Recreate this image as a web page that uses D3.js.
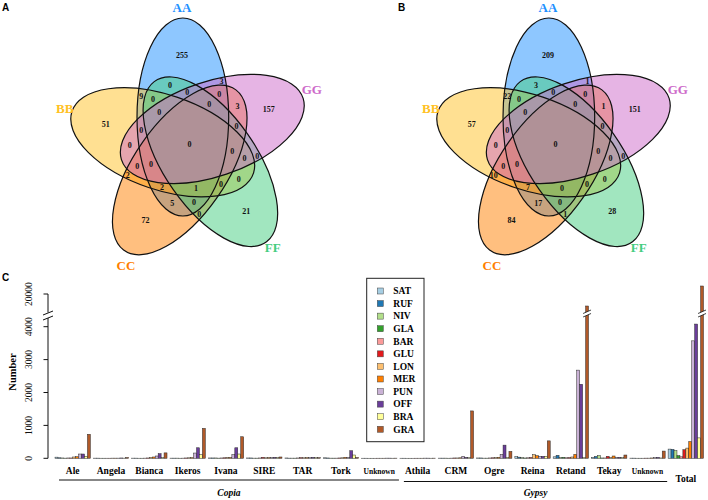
<!DOCTYPE html>
<html>
<head>
<meta charset="utf-8">
<title>Venn and TE family counts</title>
<script src="https://d3js.org/d3.v7.min.js"></script>
<style>
  body { margin: 0; background: #fff; }
  svg text { font-family: "Liberation Serif", "Times New Roman", serif; }
  svg text.panel { font-family: "Liberation Sans", Arial, sans-serif; font-weight: bold; font-size: 10px; }
</style>
</head>
<body>
<svg id="chart" width="708" height="500"></svg>
<script>

// ---- Venn data ----
var vennSets = ["AA", "BB", "CC", "FF", "GG"];
var vennColors = ["#1E90FF", "#FFC125", "#FF7F00", "#43CD80", "#CD69C9"];
var vennRegions = ["AA", "BB", "CC", "FF", "GG",
    "AA&BB", "AA&GG", "FF&GG", "CC&FF", "BB&CC",
    "AA&FF", "CC&GG", "BB&FF", "AA&CC", "BB&GG",
    "AA&BB&FF", "AA&CC&GG", "BB&FF&GG", "AA&CC&FF", "BB&CC&GG",
    "AA&FF&GG", "CC&FF&GG", "BB&CC&FF", "AA&BB&CC", "AA&BB&GG",
    "AA&BB&FF&GG", "AA&CC&FF&GG", "BB&CC&FF&GG", "AA&BB&CC&FF", "AA&BB&CC&GG",
    "AA&BB&CC&FF&GG"];
var countsA = [255, 51, 72, 21, 157,  9, 3, 0, 0, 2,  0, 3, 0, 5, 0,  0, 0, 0, 0, 0,  0, 0, 0, 2, 0,  0, 0, 0, 1, 0,  0];
var countsB = [209, 57, 84, 28, 151,  22, 1, 0, 1, 10,  3, 1, 0, 17, 0,  0, 0, 0, 0, 0,  0, 0, 0, 7, 0,  0, 0, 0, 0, 0,  0];

// ---- bar chart data ----
var families = ["Ale", "Angela", "Bianca", "Ikeros", "Ivana", "SIRE", "TAR", "Tork", "Unknown",
    "Athila", "CRM", "Ogre", "Reina", "Retand", "Tekay", "Unknown", "Total"];
var species = ["SAT", "RUF", "NIV", "GLA", "BAR", "GLU", "LON", "MER", "PUN", "OFF", "BRA", "GRA"];
var sat = [35, 5, 5, 5, 10, 10, 10, 15, 3, 3, 5, 10, 50, 45, 30, 5, 280];
var ruf = [15, 5, 5, 5, 10, 10, 5, 10, 3, 3, 5, 10, 35, 90, 55, 5, 270];
var niv = [10, 3, 3, 5, 10, 5, 5, 5, 2, 2, 5, 5, 20, 20, 80, 3, 230];
var gla = [5, 3, 3, 3, 5, 5, 5, 5, 2, 2, 3, 5, 10, 30, 10, 3, 80];
var bar = [10, 3, 5, 5, 10, 10, 10, 5, 2, 2, 5, 10, 15, 15, 10, 3, 45];
var glu = [10, 3, 10, 10, 15, 30, 20, 10, 3, 3, 10, 15, 25, 20, 60, 5, 260];
var lon = [40, 5, 30, 15, 25, 15, 15, 15, 3, 3, 10, 20, 110, 40, 25, 5, 310];
var mer = [50, 5, 40, 20, 25, 20, 20, 30, 3, 3, 15, 30, 80, 120, 70, 10, 510];
var pun = [130, 5, 70, 160, 110, 20, 20, 30, 5, 5, 60, 120, 60, 2680, 30, 20, 3570];
var off = [130, 10, 140, 320, 320, 30, 30, 230, 5, 5, 30, 400, 60, 2250, 30, 30, 4080];
var bra = [60, 5, 20, 110, 130, 20, 20, 100, 3, 3, 20, 30, 60, 20, 20, 10, 620];
var gra = [730, 25, 165, 910, 655, 40, 20, 25, 5, 5, 1440, 210, 530, 17000, 100, 220, 22000];
var series = [sat, ruf, niv, gla, bar, glu, lon, mer, pun, off, bra, gra];
var lowTicks = [0, 1000, 2000, 3000, 4000];
var highTicks = [20000];

var svg = d3.select("#chart");

// ================= Venn panels =================
var clockOrder = ["AA", "GG", "FF", "CC", "BB"];
var semiMajor = 99, semiMinor = 47.5;
var squeezeX = 0.965;   // venn viewport is slightly narrower than tall
// category label placement (angle in degrees, distance from the Venn centre)
var catAngle = {AA: -93.2, GG: -24.2, FF: 51.3, CC: 117.7, BB: 196.1};
var catDist = {AA: 137, GG: 134, FF: 133, CC: 137, BB: 130};

function rot(p, deg) {
    var t = deg * Math.PI / 180;
    return [p[0] * Math.cos(t) - p[1] * Math.sin(t), p[0] * Math.sin(t) + p[1] * Math.cos(t)];
}

var ellipses = vennSets.map(function(s, i) {
    var k = clockOrder.indexOf(s);
    var c = rot([-7, -27], k * 72);
    var t = catAngle[s] * Math.PI / 180;
    return {name: s, color: vennColors[i], cx: c[0], cy: c[1], angle: -90 + k * 72,
        lx: catDist[s] * Math.cos(t), ly: catDist[s] * Math.sin(t)};
});

function maskAt(ells, x, y) {
    var A = semiMajor, B = semiMinor, mask = 0, depth = Infinity;
    ells.forEach(function(e, i) {
        var th = e.angle * Math.PI / 180, dx = x - e.cx, dy = y - e.cy;
        var u = dx * Math.cos(th) + dy * Math.sin(th);
        var w = -dx * Math.sin(th) + dy * Math.cos(th);
        var q = u * u / (A * A) + w * w / (B * B);
        if (q < 1) mask |= 1 << i;
        var g = 2 * Math.sqrt(u * u / Math.pow(A, 4) + w * w / Math.pow(B, 4));
        depth = Math.min(depth, Math.abs(q - 1) / Math.max(g, 1e-6));
    });
    return {mask: mask, depth: depth};
}

// label spot for each region: centroid, or deepest point if centroid falls outside
function regionSpots(ells) {
    var acc = {};
    for (var x = -135; x <= 135; x += 1) {
        for (var y = -140; y <= 135; y += 1) {
            var r = maskAt(ells, x, y);
            if (!r.mask) continue;
            var a = acc[r.mask] || (acc[r.mask] = {sx: 0, sy: 0, n: 0, best: null});
            a.sx += x; a.sy += y; a.n += 1;
            if (!a.best || r.depth > a.best.d) a.best = {x: x, y: y, d: r.depth};
        }
    }
    var out = {};
    Object.keys(acc).forEach(function(m) {
        var a = acc[m], cx = a.sx / a.n, cy = a.sy / a.n;
        var chk = maskAt(ells, cx, cy);
        out[m] = (chk.mask == m && chk.depth > 3) ? {x: cx, y: cy} : a.best;
    });
    return out;
}
var spots = regionSpots(ellipses);

function regionMask(r) {
    return r.split("&").reduce(function(m, s) { return m | (1 << vennSets.indexOf(s)); }, 0);
}

function drawVenn(cx, cy, counts) {
    var g = svg.append("g").attr("transform", "translate(" + cx + "," + cy + ")");
    var shapes = g.append("g").attr("transform", "scale(" + squeezeX + ",1)");
    shapes.selectAll("ellipse.fill").data(ellipses).enter().append("ellipse")
        .attr("class", "fill")
        .attr("cx", d => d.cx).attr("cy", d => d.cy)
        .attr("rx", semiMajor).attr("ry", semiMinor)
        .attr("transform", d => "rotate(" + d.angle + "," + d.cx + "," + d.cy + ")")
        .attr("fill", d => d.color).attr("fill-opacity", 0.5)
        .attr("stroke", "none");
    shapes.selectAll("ellipse.line").data(ellipses).enter().append("ellipse")
        .attr("class", "line")
        .attr("cx", d => d.cx).attr("cy", d => d.cy)
        .attr("rx", semiMajor).attr("ry", semiMinor)
        .attr("transform", d => "rotate(" + d.angle + "," + d.cx + "," + d.cy + ")")
        .attr("fill", "none").attr("stroke", "#111").attr("stroke-width", 1.2)
        .attr("vector-effect", "non-scaling-stroke");
    g.selectAll("text.num").data(vennRegions).enter().append("text")
        .attr("class", "num")
        .attr("x", d => spots[regionMask(d)].x * squeezeX)
        .attr("y", d => spots[regionMask(d)].y)
        .attr("text-anchor", "middle").attr("dy", "0.35em")
        .attr("font-size", "8px").attr("font-weight", "bold").attr("fill", "#111")
        .text((d, i) => counts[i]);
    g.selectAll("text.cat").data(ellipses).enter().append("text")
        .attr("class", "cat")
        .attr("x", d => d.lx).attr("y", d => d.ly)
        .attr("text-anchor", "middle").attr("dy", "0.35em")
        .attr("font-size", "13px").attr("font-weight", "bold")
        .attr("fill", d => d.color)
        .text(d => d.name);
}

drawVenn(189.6, 144, countsA);
drawVenn(555.6, 144, countsB);

svg.append("text").attr("class", "panel").attr("x", 2).attr("y", 11).text("A");
svg.append("text").attr("class", "panel").attr("x", 398).attr("y", 11).text("B");
svg.append("text").attr("class", "panel").attr("x", 2).attr("y", 281).text("C");

// ================= bar chart =================
var colors = d3.schemePaired;
var x0 = d3.scaleBand().domain(d3.range(families.length)).range([55, 703.5])
    .paddingInner(1 / 13).paddingOuter(0);
var x1 = d3.scaleBand().domain(d3.range(species.length)).range([0, x0.bandwidth()]);
var yLow = d3.scaleLinear().domain([0, 4000]).range([458.3, 326.7]);
var yHigh = d3.scaleLinear().domain([15000, 22000]).range([314, 286]);
var breakAt = 4300;
function yv(v) { return v > breakAt ? yHigh(v) : yLow(v); }

var rows = [];
series.forEach(function(vals, s) {
    vals.forEach(function(v, f) { rows.push({f: f, s: s, v: v}); });
});

var bars = svg.append("g");
bars.selectAll("rect").data(rows).enter().append("rect")
    .attr("x", d => x0(d.f) + x1(d.s))
    .attr("width", x1.bandwidth())
    .attr("y", d => yv(d.v))
    .attr("height", d => yLow(0) - yv(d.v))
    .attr("fill", d => colors[d.s])
    .attr("stroke", "#2a2a2a").attr("stroke-width", 0.5);

// break marks on bars that cross the gap
var tall = rows.filter(d => d.v > breakAt);
var brk = svg.append("g");
tall.forEach(function(d) {
    var xa = x0(d.f) + x1(d.s) - 2.5, xb = xa + x1.bandwidth() + 5;
    brk.append("polygon")
        .attr("points", [[xa, 317], [xb, 313.5], [xb, 310], [xa, 313.5]].join(" "))
        .attr("fill", "#fff");
    brk.append("line").attr("x1", xa).attr("y1", 317).attr("x2", xb).attr("y2", 313.5)
        .attr("stroke", "#111").attr("stroke-width", 0.8);
    brk.append("line").attr("x1", xa).attr("y1", 313.5).attr("x2", xb).attr("y2", 310)
        .attr("stroke", "#111").attr("stroke-width", 0.8);
});

// y axis (broken)
var axisX = 48;
var ax = svg.append("g");
ax.append("line").attr("x1", axisX).attr("x2", axisX)
    .attr("y1", yLow(0)).attr("y2", 318).attr("stroke", "#111");
ax.append("line").attr("x1", axisX).attr("x2", axisX)
    .attr("y1", 312.5).attr("y2", yHigh(20000)).attr("stroke", "#111");
ax.append("line").attr("x1", 43).attr("y1", 320).attr("x2", 53).attr("y2", 316).attr("stroke", "#111");
ax.append("line").attr("x1", 43).attr("y1", 315).attr("x2", 53).attr("y2", 311).attr("stroke", "#111");

var tickData = lowTicks.map(t => ({t: t, y: yLow(t)}))
    .concat(highTicks.map(t => ({t: t, y: yHigh(t)})));
ax.selectAll("line.tick").data(tickData).enter().append("line")
    .attr("class", "tick")
    .attr("x1", axisX - 4.5).attr("x2", axisX)
    .attr("y1", d => d.y).attr("y2", d => d.y).attr("stroke", "#111");
ax.selectAll("text.tl").data(tickData).enter().append("text")
    .attr("class", "tl")
    .attr("transform", d => "translate(31.5," + d.y + ") rotate(-90)")
    .attr("text-anchor", "middle").attr("font-size", "9.5px").attr("fill", "#111")
    .text(d => d.t);
svg.append("text")
    .attr("transform", "translate(16,372) rotate(-90)")
    .attr("text-anchor", "middle").attr("font-size", "10.5px").attr("font-weight", "bold")
    .text("Number");

// family labels
svg.append("g").selectAll("text").data(families).enter().append("text")
    .attr("x", (d, i) => x0(i) + x0.bandwidth() / 2)
    .attr("y", (d, i) => i === 16 ? 481.5 : 474)
    .attr("text-anchor", "middle").attr("font-weight", "bold")
    .attr("font-size", d => d === "Unknown" ? "7.5px" : "9.5px")
    .text(d => d);

// superfamily brackets
var groups = [
    {name: "Copia", from: 0, to: 8, y: 480},
    {name: "Gypsy", from: 9, to: 15, y: 481.5}
];
groups.forEach(function(g) {
    var a = x0(g.from) + 4, b = x0(g.to) + x0.bandwidth() + 2;
    svg.append("line").attr("x1", a).attr("x2", b).attr("y1", g.y).attr("y2", g.y)
        .attr("stroke", "#111").attr("stroke-width", 1.2);
    svg.append("text").attr("x", (a + b) / 2).attr("y", 495.5)
        .attr("text-anchor", "middle").attr("font-size", "9.5px")
        .attr("font-weight", "bold").attr("font-style", "italic")
        .text(g.name);
});

// legend
var lg = svg.append("g").attr("transform", "translate(366.7,278.3)");
lg.append("rect").attr("width", 57.3).attr("height", 163.4)
    .attr("fill", "#fff").attr("stroke", "#222").attr("stroke-width", 1);
var items = lg.selectAll("g.item").data(species).enter().append("g")
    .attr("class", "item")
    .attr("transform", (d, i) => "translate(0," + (12.7 + i * 12.57) + ")");
items.append("rect").attr("x", 10.6).attr("y", -3).attr("width", 6).attr("height", 6)
    .attr("fill", (d, i) => colors[i]).attr("stroke", "#444").attr("stroke-width", 0.5);
items.append("text").attr("x", 26.6).attr("dy", "0.35em")
    .attr("font-size", "9.5px").attr("font-weight", "bold").text(d => d);

</script>
</body>
</html>
